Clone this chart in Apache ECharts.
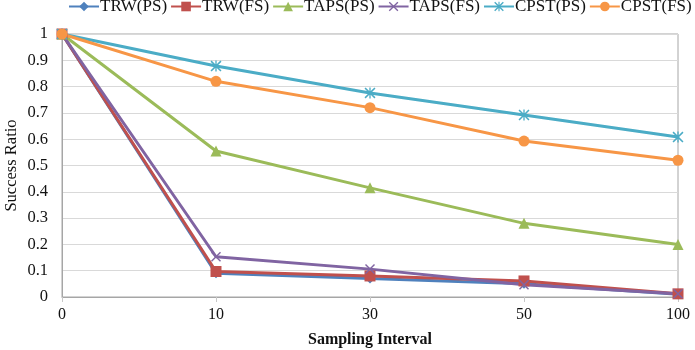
<!DOCTYPE html>
<html>
<head>
<meta charset="utf-8">
<script src="https://cdn.jsdelivr.net/npm/echarts@6/dist/echarts.min.js"></script>
<style>
  html, body { margin: 0; padding: 0; background: #fff; }
  #chart { width: 695px; height: 350px; }
</style>
</head>
<body>
<div id="chart"></div>
<script>
const categories = ["0", "10", "30", "50", "100"];
const seriesNames = ["TRW(PS)", "TRW(FS)", "TAPS(PS)", "TAPS(FS)", "CPST(PS)", "CPST(FS)"];
const trwPS = [1, 0.09, 0.07, 0.05, 0.01];
const trwFS = [1, 0.097, 0.08, 0.061, 0.012];
const tapsPS = [1, 0.555, 0.415, 0.28, 0.2];
const tapsFS = [1, 0.153, 0.106, 0.047, 0.012];
const cpstPS = [1, 0.878, 0.776, 0.692, 0.608];
const cpstFS = [1, 0.82, 0.72, 0.593, 0.52];

const crossPath = "path://M0,1L1,0L5,4L9,0L10,1L6,5L10,9L9,10L5,6L1,10L0,9L4,5Z";
const starPath = crossPath + "M4.4,0L5.6,0L5.6,10L4.4,10Z";

const colors = ["#4F81BD", "#C0504D", "#9BBB59", "#8064A2", "#4BACC6", "#F79646"];
const symbols = ["diamond", "rect", "triangle", crossPath, starPath, "circle"];
const sizes = [10, 11, 11, 10, 11, 11];
const values = [trwPS, trwFS, tapsPS, tapsFS, cpstPS, cpstFS];

const chart = echarts.init(document.getElementById("chart"));
const font = "Liberation Serif";

chart.setOption({
  animation: false,
  color: colors,
  legend: {
    top: -2,
    left: 68,
    width: 640,
    padding: 0,
    itemWidth: 30,
    itemHeight: 12,
    itemGap: 3,
    textStyle: { fontFamily: font, fontSize: 17, color: "#111", padding: [0, 0, 0, -4] },
    data: seriesNames
  },
  grid: {
    left: 62, right: 17, top: 34, bottom: 53,
    outerBoundsMode: "none",
    show: true, borderColor: "#a6a6a6", borderWidth: 1
  },
  xAxis: {
    type: "category",
    boundaryGap: false,
    data: categories,
    name: "Sampling Interval",
    nameLocation: "middle",
    nameGap: 35,
    nameMoveOverlap: false,
    nameTextStyle: { fontFamily: font, fontSize: 16, fontWeight: "bold", color: "#111" },
    axisLine: { lineStyle: { color: "#a6a6a6" } },
    axisTick: { show: true, length: 5, lineStyle: { color: "#c8c8c8" } },
    axisLabel: { fontFamily: font, fontSize: 16, color: "#111", margin: 10 }
  },
  yAxis: {
    type: "value",
    min: 0,
    max: 1,
    interval: 0.1,
    name: "Success Ratio",
    nameLocation: "middle",
    nameGap: 42,
    nameMoveOverlap: false,
    nameTextStyle: { fontFamily: font, fontSize: 16.5, color: "#111" },
    axisLine: { show: true, lineStyle: { color: "#a6a6a6" } },
    axisTick: { show: false },
    axisLabel: { fontFamily: font, fontSize: 16.5, color: "#111", margin: 14 },
    splitLine: { lineStyle: { color: "#d9d9d9" } }
  },
  series: seriesNames.map((name, i) => ({
    name: name,
    type: "line",
    data: values[i],
    symbol: symbols[i],
    symbolSize: sizes[i],
    lineStyle: { width: 3, color: colors[i] },
    itemStyle: { color: colors[i] }
  }))
});
</script>
</body>
</html>
